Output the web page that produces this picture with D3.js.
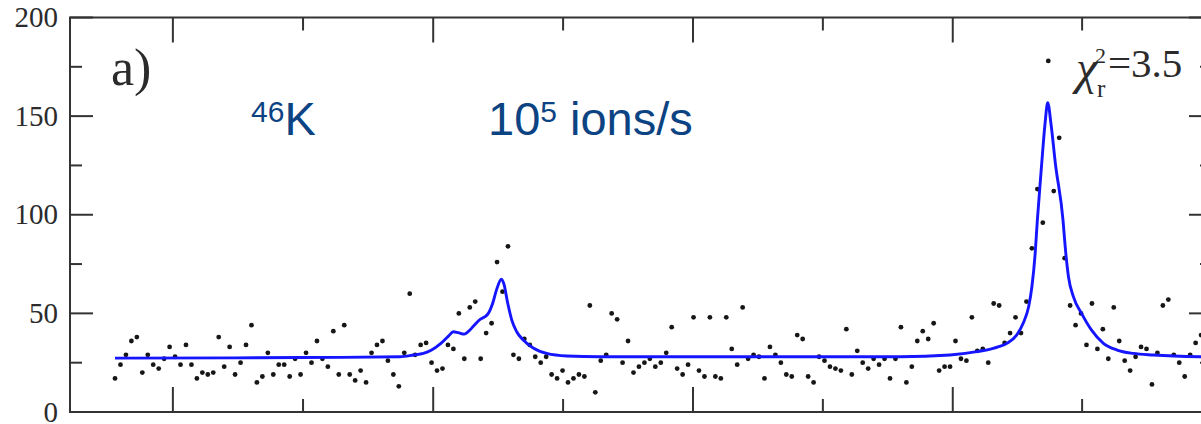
<!DOCTYPE html>
<html>
<head>
<meta charset="utf-8">
<script src="https://cdn.jsdelivr.net/npm/d3@7"></script>
<style>
    body { margin: 0; background: #fff; }
    svg { display: block; }
</style>
</head>
<body>
<svg id="spectrumSvg" width="1201" height="424"></svg>
<script>
// counts per channel, channel = index
var counts = [
    17, 24, 29, 36, 38, 20, 29, 24, 22, 27,
    33, 28, 24, 34, 24, 17, 20, 19, 20, 38,
    23, 33, 19, 25, 34, 44, 15, 18, 30, 19,
    24, 24, 18, 27, 19, 30, 25, 36, 27, 23,
    41, 19, 44, 19, 16, 21, 15, 30, 34, 36,
    26, 19, 13, 30, 60, 29, 34, 35, 25, 21,
    22, 34, 32, 50, 27, 53, 56, 27, 40, 45,
    76, 61, 84, 29, 27, 37, 34, 28, 25, 28,
    19, 17, 21, 15, 17, 19, 18, 54, 10, 26,
    29, 50, 47, 25, 36, 20, 23, 25, 27, 23,
    25, 30, 43, 22, 19, 24, 48, 21, 18, 48,
    18, 17, 48, 32, 24, 53, 27, 29, 28, 17,
    33, 29, 25, 19, 18, 39, 37, 18, 15, 28,
    26, 23, 22, 21, 42, 19, 31, 25, 22, 27,
    24, 27, 17, 27, 43, 15, 23, 36, 41, 37,
    45, 21, 23, 23, 36, 27, 26, 48, 31, 32,
    25, 55, 54, 35, 40, 48, 40, 56, 83, 113,
    96, 178, 112, 139, 78, 54, 44, 50, 34, 55,
    32, 42, 27, 53, 36, 26, 21, 28, 33, 32,
    14, 30, 54, 57, 29, 25, 18, 29, 35, 39,
    25
];

// fitted curve, sampled from the figure
var fitChannel = [0, 33.9, 52.2, 54.7, 56.5, 58.0, 59.6, 61.1, 62.0, 62.9, 64.0, 64.7, 65.7, 66.9, 67.8, 68.4,
    69.2, 69.9, 70.8, 71.3, 71.9, 72.7, 73.6, 74.8, 76.7, 79.1, 82.8, 88.9, 143.9, 153.0, 157.9, 160.9,
    163.4, 165.2, 166.4, 167.4, 168.0, 168.6, 169.0, 169.8, 170.4, 170.9, 171.5, 172.3, 173.7, 174.1,
    174.7, 175.6, 177.1, 178.9, 181.1, 183.6, 186.6, 190.3, 198.8, 201];
var fitValue = [27.3, 27.6, 28.0, 28.9, 29.7, 31.4, 34.5, 38.5, 40.7, 40.2, 39.5, 40.7, 43.6, 47, 48.3, 50,
    55.1, 61.9, 67.3, 64.4, 55.9, 46.6, 40.7, 36.5, 32.3, 29.7, 28.4, 28.0, 28.0, 28.9, 30.6, 32.3,
    34.8, 39.0, 45, 53.4, 63.5, 80.4, 97.3, 126, 146, 156.8, 146, 126, 97.3, 83.8,
    68.6, 58.5, 50, 41.6, 34.8, 31.4, 29.7, 28.9, 28.0, 27.9];

var yTicks = [0, 50, 100, 150, 200];
var yMinorTicks = [25, 75, 125, 175];
var xMajorTicks = [10.6, 58.3, 105.9, 153.5, 201.0];
var xMinorTicks = [34.45, 82.1, 129.7, 177.2];

var frameLeft = 70, frameRight = 1212, frameTop = 17.5, frameBottom = 412;
var axisColor = "#333333";
var textColor = "#2b2b2b";
var labelColor = "#0c4383";
var serif = "'Liberation Serif', 'Times New Roman', serif";
var sans = "'Liberation Sans', Arial, sans-serif";

var svg = d3.select("#spectrumSvg");

var x = d3.scaleLinear().domain([-8.25, 201]).range([frameLeft, frameRight]);
var y = d3.scaleLinear().domain([0, 200]).range([frameBottom, frameTop]);

// frame
svg.append("rect")
    .attr("x", frameLeft)
    .attr("y", frameTop)
    .attr("width", frameRight - frameLeft)
    .attr("height", frameBottom - frameTop)
    .style("fill", "none")
    .style("stroke", axisColor)
    .style("stroke-width", 2);

// y ticks, left + right, pointing inward
function yTickLines(values, len) {
    svg.selectAll(null).data(values).enter().append("line")
        .attr("x1", frameLeft).attr("x2", frameLeft + len)
        .attr("y1", function(d) { return y(d); }).attr("y2", function(d) { return y(d); })
        .style("stroke", axisColor).style("stroke-width", 2);
    svg.selectAll(null).data(values).enter().append("line")
        .attr("x1", frameRight).attr("x2", frameRight - len)
        .attr("y1", function(d) { return y(d); }).attr("y2", function(d) { return y(d); })
        .style("stroke", axisColor).style("stroke-width", 2);
}
yTickLines(yTicks, 23);
yTickLines(yMinorTicks, 12);

// x ticks, bottom + top
function xTickLines(values, len) {
    svg.selectAll(null).data(values).enter().append("line")
        .attr("x1", function(d) { return x(d); }).attr("x2", function(d) { return x(d); })
        .attr("y1", frameBottom).attr("y2", frameBottom - len)
        .style("stroke", axisColor).style("stroke-width", 2);
    svg.selectAll(null).data(values).enter().append("line")
        .attr("x1", function(d) { return x(d); }).attr("x2", function(d) { return x(d); })
        .attr("y1", frameTop).attr("y2", frameTop + len)
        .style("stroke", axisColor).style("stroke-width", 2);
}
xTickLines(xMajorTicks, 25);
xTickLines(xMinorTicks, 13);

svg.selectAll(null).data(yTicks).enter().append("text")
    .attr("x", 58)
    .attr("y", function(d) { return y(d); })
    .attr("dy", "0.33em")
    .attr("text-anchor", "end")
    .style("font-family", serif)
    .style("font-size", "29px")
    .style("fill", textColor)
    .text(function(d) { return d; });

// data points
svg.append("g").selectAll("circle").data(counts).enter().append("circle")
    .attr("cx", function(d, i) { return x(i); })
    .attr("cy", function(d) { return y(d); })
    .attr("r", 2.4)
    .style("fill", "#161616");

// fit
var fitLine = d3.line()
    .x(function(d, i) { return x(fitChannel[i]); })
    .y(function(d) { return y(d); })
    .curve(d3.curveMonotoneX);

svg.append("path")
    .attr("d", fitLine(fitValue))
    .style("fill", "none")
    .style("stroke", "#1515ff")
    .style("stroke-width", 2.9);

// labels
svg.append("text")
    .attr("x", 111).attr("y", 85)
    .style("font-family", serif)
    .style("font-size", "52px")
    .style("fill", textColor)
    .text("a)");

var k46 = svg.append("text")
    .attr("x", 251).attr("y", 135)
    .style("font-family", sans)
    .style("font-size", "47px")
    .style("fill", labelColor);
k46.append("tspan").attr("font-size", "30px").attr("dy", -13.3).text("46");
k46.append("tspan").attr("dy", 13.3).text("K");

var rate = svg.append("text")
    .attr("x", 488).attr("y", 135)
    .style("font-family", sans)
    .style("font-size", "47px")
    .style("fill", labelColor);
rate.append("tspan").text("10");
rate.append("tspan").attr("font-size", "30px").attr("dy", -13.3).text("5");
rate.append("tspan").attr("dy", 13.3).text(" ions/s");

// chi^2_r = 3.5
svg.append("text").attr("x", 1076).attr("y", 84)
    .style("font-family", serif).style("font-style", "italic").style("font-size", "48px")
    .style("fill", textColor).text("χ");
svg.append("text").attr("x", 1095).attr("y", 63)
    .style("font-family", serif).style("font-size", "22px")
    .style("fill", textColor).text("2");
svg.append("text").attr("x", 1097).attr("y", 97)
    .style("font-family", serif).style("font-size", "25px")
    .style("fill", textColor).text("r");
svg.append("text").attr("x", 1108).attr("y", 77)
    .style("font-family", serif).style("font-size", "41px")
    .style("fill", textColor).text("=3.5");
</script>
</body>
</html>
